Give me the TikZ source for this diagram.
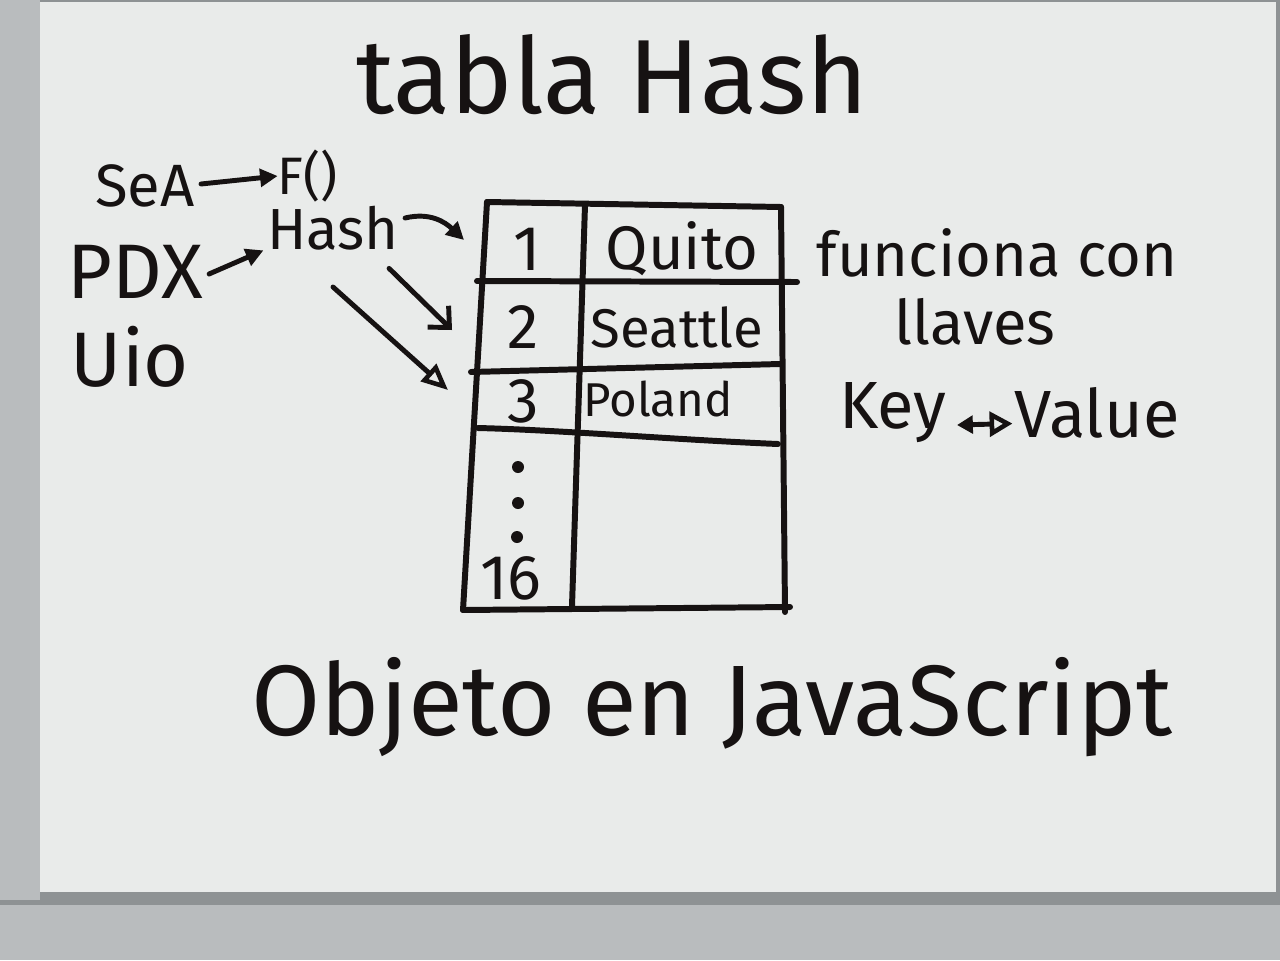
\documentclass[tikz,border=0pt]{standalone}
\usepackage{fontspec}
\setmainfont{Fira Sans}
\usetikzlibrary{arrows.meta}
\definecolor{board}{HTML}{E9EBEA}
\definecolor{ink}{HTML}{161212}
\definecolor{railA}{HTML}{B9BCBE}
\definecolor{railB}{HTML}{8E9294}
\newcommand\inkfs[1]{\fontsize{#1}{#1}\selectfont}
\tikzset{
  txt/.style={text=ink, inner sep=0pt, anchor=center},
  grid/.style={draw=ink, line width=3.4pt, line cap=round},
  flow/.style={draw=ink, line width=2.8pt, line cap=round,
    -{Triangle[open,length=15pt,width=13pt,line width=2.6pt]}},
  barb/.style={draw=ink, line width=2.8pt, line cap=round,
    -{Straight Barb[length=9pt,width=17pt,line width=2.8pt]}},
  dart/.style={draw=ink, line width=2.8pt, line cap=round,
    -{Triangle[length=10pt,width=10pt]}},
}
\begin{document}
\begin{tikzpicture}[x=0.02cm,y=-0.02cm]
% frame and writing surface
\fill[railB] (0,0) rectangle (1280,960);
\fill[railA] (0,0) rectangle (40,900);
\fill[railA] (0,905) rectangle (1280,960);
\fill[board] (40,2) rectangle (1276,892);
\useasboundingbox (0,0) rectangle (1280,960);

% title
\node[txt] (title) at (612,75) {\inkfs{60}tabla Hash};

% keys on the left
\node[txt] (sea) at (145,186) {\inkfs{34}SeA};
\node[txt] (fn)  at (308,176) {\inkfs{30}F()};
\node[txt] (pdx) at (135,272) {\inkfs{44}PDX};
\node[txt] (uio) at (130,357) {\inkfs{44}Uio};
\node[txt] (hash) at (333,228) {\inkfs{33}Hash};

% table grid
\coordinate (tl) at (487,202);
\coordinate (tr) at (781,207);
\coordinate (bl) at (463,610);
\coordinate (br) at (790,607);
\draw[grid] (tl) -- (tr);
\draw[grid] (tl) -- (bl);
\draw[grid] (tr) -- (785,612);
\draw[grid] (585,205) -- (572,606);
\draw[grid] (477,281) -- (797,282);
\draw[grid] (471,372) -- (780,364);
\draw[grid] (478,428) .. controls (560,430) and (680,440) .. (778,444);
\draw[grid] (bl) -- (br);

% table cells
\node[txt] (k1) at (527,249) {\inkfs{36}1};
\node[txt] (v1) at (682,249) {\inkfs{35}Quito};
\node[txt] (k2) at (523,327) {\inkfs{36}2};
\node[txt] (v2) at (677,327) {\inkfs{31}Seattle};
\node[txt] (k3) at (523,401) {\inkfs{36}3};
\node[txt] (v3) at (658,399) {\inkfs{27}Poland};
\fill[ink] (518,467) circle (6);
\fill[ink] (518,503) circle (6);
\fill[ink] (517,537) circle (6);
\node[txt] (k16) at (511,578) {\inkfs{36}16};

% entry points on the table edge
\coordinate (r1) at (464,240);
\coordinate (r2) at (452,330);
\coordinate (r3) at (448,390);
\coordinate (h3) at (333,287);

% arrows
\draw[dart] (sea.east) ++(6,-2) -- (fn.west);
\draw[dart] (pdx.east) ++(6,2) -- ([xshift=-2pt]hash.south west);
\draw[dart] (hash.east) ++(6,-10) .. controls (430,212) and (445,222) .. (r1);
\draw[barb] (hash.south east) ++(-10,18) -- (r2);
\draw[flow] (h3) -- (r3);

% notes on the right
\node[txt] (note1) at (997,253) {\inkfs{35}funciona con};
\node[txt] (note2) at (975,322) {\inkfs{35}llaves};
\node[txt] (key) at (893,413) {\inkfs{38}Key};
\node[txt] (val) at (1097,413) {\inkfs{38}Value};
\draw[draw=ink, line width=2.8pt, {Triangle[length=9pt,width=10pt]}-{Triangle[open,length=13pt,width=14pt,line width=2.6pt]}] (key.east) ++(10,12) -- ([xshift=-1pt,yshift=-6pt]val.west);

% bottom caption
\node[txt] (obj) at (712,707) {\inkfs{57}Objeto en JavaScript};
\end{tikzpicture}
\end{document}
